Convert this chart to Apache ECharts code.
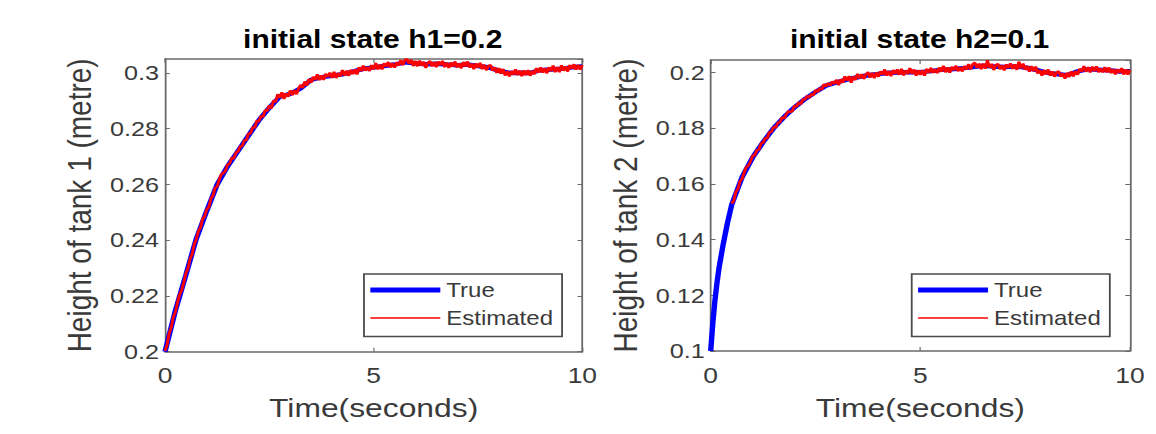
<!DOCTYPE html>
<html>
<head>
<meta charset="utf-8">
<script src="https://cdn.jsdelivr.net/npm/echarts@6/dist/echarts.min.js"></script>
<style>
  html, body { margin: 0; padding: 0; background: #ffffff; overflow: hidden; }
  #chart { width: 963px; height: 434px; transform: scaleX(1.20042); transform-origin: 0 0; }
</style>
</head>
<body>
<div id="chart"></div>
<script>
// ---------------- data ----------------
const titles = ['initial state h1=0.2', 'initial state h2=0.1'];
const yNames = ['Height of tank 1 (metre)', 'Height of tank 2 (metre)'];
const xName = 'Time(seconds)';
const legendNames = ['True', 'Estimated'];

const timeTrueL = [0,0.25,0.5,0.75,1,1.25,1.5,1.75,2,2.25,2.5,2.75,3,3.25,3.5,3.75,4,4.25,4.5,4.75,5,5.25,5.5,5.75,6,6.25,6.5,6.75,7,7.25,7.5,7.75,8,8.25,8.5,8.75,9,9.25,9.5,9.75,10];
const heightTrueL = [0.2000,0.2148,0.2275,0.2405,0.2505,0.2600,0.2665,0.2720,0.2775,0.2830,0.2875,0.2915,0.2925,0.2945,0.2975,0.2985,0.2990,0.2995,0.3005,0.3015,0.3020,0.3025,0.3030,0.3038,0.3035,0.3031,0.3033,0.3030,0.3028,0.3030,0.3025,0.3020,0.3008,0.3000,0.3001,0.3000,0.3010,0.3012,0.3015,0.3020,0.3023];

const timeTrueR = [0,0.05,0.1,0.15,0.2,0.3,0.4,0.5,0.6,0.75,1,1.25,1.5,1.75,2,2.25,2.5,2.75,3,3.25,3.5,3.75,4,4.25,4.5,4.75,5,5.25,5.5,5.75,6,6.25,6.5,6.75,7,7.25,7.5,7.75,8,8.25,8.5,8.75,9,9.25,9.5,9.75,10];
const heightTrueR = [0.1000,0.1100,0.1180,0.1245,0.1300,0.1385,0.1460,0.1525,0.1565,0.1625,0.1695,0.1750,0.1800,0.1840,0.1875,0.1905,0.1930,0.1953,0.1965,0.1975,0.1983,0.1990,0.1995,0.1999,0.2000,0.2002,0.2001,0.2005,0.2010,0.2012,0.2015,0.2020,0.2024,0.2022,0.2020,0.2022,0.2018,0.2010,0.2000,0.1995,0.1990,0.2004,0.2012,0.2010,0.2008,0.2004,0.2005];

// sample times of the estimated (noisy) signals
const timeEst = [
  0,0.05,0.1,0.15,0.2,0.25,0.3,0.35,0.4,0.45,
  0.5,0.55,0.6,0.65,0.7,0.75,0.8,0.85,0.9,0.95,
  1,1.05,1.1,1.15,1.2,1.25,1.3,1.35,1.4,1.45,
  1.5,1.55,1.6,1.65,1.7,1.75,1.8,1.85,1.9,1.95,
  2,2.05,2.1,2.15,2.2,2.25,2.3,2.35,2.4,2.45,
  2.5,2.55,2.6,2.65,2.7,2.75,2.8,2.85,2.9,2.95,
  3,3.05,3.1,3.15,3.2,3.25,3.3,3.35,3.4,3.45,
  3.5,3.55,3.6,3.65,3.7,3.75,3.8,3.85,3.9,3.95,
  4,4.05,4.1,4.15,4.2,4.25,4.3,4.35,4.4,4.45,
  4.5,4.55,4.6,4.65,4.7,4.75,4.8,4.85,4.9,4.95,
  5,5.05,5.1,5.15,5.2,5.25,5.3,5.35,5.4,5.45,
  5.5,5.55,5.6,5.65,5.7,5.75,5.8,5.85,5.9,5.95,
  6,6.05,6.1,6.15,6.2,6.25,6.3,6.35,6.4,6.45,
  6.5,6.55,6.6,6.65,6.7,6.75,6.8,6.85,6.9,6.95,
  7,7.05,7.1,7.15,7.2,7.25,7.3,7.35,7.4,7.45,
  7.5,7.55,7.6,7.65,7.7,7.75,7.8,7.85,7.9,7.95,
  8,8.05,8.1,8.15,8.2,8.25,8.3,8.35,8.4,8.45,
  8.5,8.55,8.6,8.65,8.7,8.75,8.8,8.85,8.9,8.95,
  9,9.05,9.1,9.15,9.2,9.25,9.3,9.35,9.4,9.45,
  9.5,9.55,9.6,9.65,9.7,9.75,9.8,9.85,9.9,9.95,
  10];

const heightEstL = [
  0.2003,0.2025,0.2066,0.2087,0.2125,0.2142,0.2177,0.2205,0.2221,0.2248,
  0.2281,0.2298,0.2333,0.2349,0.2385,0.2403,0.2432,0.2445,0.2476,0.2485,
  0.2510,0.2519,0.2549,0.2560,0.2587,0.2593,0.2617,0.2636,0.2641,0.2650,
  0.2671,0.2675,0.2695,0.2693,0.2714,0.2718,0.2736,0.2738,0.2758,0.2759,
  0.2782,0.2783,0.2804,0.2804,0.2828,0.2827,0.2845,0.2843,0.2866,0.2864,
  0.2884,0.2873,0.2901,0.2896,0.2923,0.2911,0.2930,0.2907,0.2927,0.2915,
  0.2937,0.2921,0.2938,0.2924,0.2944,0.2957,0.2946,0.2969,0.2955,0.2978,
  0.2965,0.2986,0.2975,0.2995,0.2974,0.2991,0.2975,0.2997,0.2986,0.3001,
  0.2982,0.3004,0.2982,0.2999,0.2988,0.3010,0.2991,0.3008,0.2990,0.3011,
  0.2996,0.3013,0.2995,0.3020,0.3007,0.3026,0.3008,0.3021,0.3007,0.3028,
  0.3013,0.3035,0.3013,0.3030,0.3013,0.3034,0.3023,0.3039,0.3020,0.3035,
  0.3019,0.3038,0.3027,0.3046,0.3028,0.3047,0.3049,0.3033,0.3047,0.3025,
  0.3043,0.3024,0.3044,0.3026,0.3040,0.3018,0.3036,0.3042,0.3024,0.3039,
  0.3021,0.3041,0.3028,0.3043,0.3021,0.3037,0.3018,0.3037,0.3023,0.3041,
  0.3020,0.3034,0.3017,0.3039,0.3024,0.3041,0.3020,0.3033,0.3014,0.3034,
  0.3019,0.3036,0.3014,0.3029,0.3010,0.3025,0.3028,0.3008,0.3020,0.3000,
  0.3017,0.2998,0.3014,0.2991,0.3006,0.2988,0.3007,0.2994,0.3013,0.2992,
  0.3008,0.2989,0.3009,0.2992,0.3010,0.2990,0.3007,0.2996,0.3017,0.3001,
  0.3020,0.3001,0.3017,0.2999,0.3020,0.3007,0.3026,0.3003,0.3021,0.3003,
  0.3027,0.3008,0.3023,0.3005,0.3028,0.3015,0.3031,0.3012,0.3029,0.3012,
  0.3028];

const heightEstR = [
  null,null,null,null,null,null,null,null,null,null,
  0.1529,0.1540,0.1571,0.1582,0.1610,0.1619,0.1642,0.1660,0.1666,0.1681,
  0.1701,0.1703,0.1721,0.1723,0.1745,0.1748,0.1764,0.1765,0.1786,0.1787,
  0.1805,0.1802,0.1820,0.1821,0.1839,0.1835,0.1849,0.1861,0.1858,0.1863,
  0.1881,0.1878,0.1893,0.1887,0.1904,0.1903,0.1916,0.1910,0.1923,0.1919,
  0.1937,0.1930,0.1944,0.1939,0.1958,0.1950,0.1962,0.1953,0.1968,0.1960,
  0.1974,0.1955,0.1975,0.1964,0.1986,0.1971,0.1987,0.1964,0.1985,0.1974,
  0.1995,0.1979,0.1994,0.1977,0.1993,0.2001,0.1982,0.1999,0.1980,0.2000,
  0.1985,0.2004,0.1992,0.2011,0.1989,0.2005,0.1987,0.2009,0.1996,0.2011,
  0.1992,0.2013,0.1990,0.2007,0.1995,0.2016,0.1996,0.2011,0.1989,0.2008,
  0.1992,0.2008,0.1989,0.2013,0.1999,0.2017,0.1999,0.2012,0.1998,0.2018,
  0.2003,0.2024,0.2001,0.2018,0.2000,0.2020,0.2009,0.2024,0.2005,0.2019,
  0.2004,0.2023,0.2011,0.2030,0.2011,0.2030,0.2035,0.2017,0.2032,0.2012,
  0.2032,0.2014,0.2044,0.2017,0.2031,0.2009,0.2026,0.2031,0.2012,0.2026,
  0.2008,0.2029,0.2017,0.2033,0.2013,0.2029,0.2010,0.2039,0.2015,0.2032,
  0.2010,0.2023,0.2003,0.2023,0.2005,0.2021,0.1997,0.2009,0.1989,0.2009,
  0.1994,0.2011,0.1989,0.2004,0.1985,0.2000,0.2004,0.1985,0.1997,0.1978,
  0.1999,0.1984,0.2004,0.1986,0.2005,0.1992,0.2013,0.2003,0.2023,0.2003,
  0.2019,0.2001,0.2021,0.2005,0.2022,0.2001,0.2014,0.2001,0.2019,0.2001,
  0.2018,0.1998,0.2012,0.1993,0.2012,0.1999,0.2016,0.1993,0.2011,0.1993,
  0.2010];

const xTicks = { min: 0, max: 10, interval: 5 };
const yTicksL = { min: 0.2, max: 0.305, interval: 0.02 };
const yTicksR = { min: 0.1, max: 0.2045, interval: 0.02 };

// ---------------- build ----------------
function zip(ts, ys) { return ts.map((t, i) => [t, ys[i]]); }

const FONT = 'Liberation Sans, Arial, Helvetica, sans-serif';
const axisCol = '#6a6a6a';
const textCol = '#3a3a3a';

const grids = [
  { left: 137.45, right: 477.9, top: 59, bottom: 82.3 },
  { left: 592.05, right: 21.66, top: 60, bottom: 83 }
];

function xAxisMain(g) {
  return {
    gridIndex: g, type: 'value', position: 'bottom',
    min: xTicks.min, max: xTicks.max, interval: xTicks.interval,
    name: xName, nameLocation: 'middle', nameGap: 43,
    nameTextStyle: { fontSize: 26.5, color: textCol, fontFamily: FONT },
    axisLine: { show: true, onZero: false, lineStyle: { color: axisCol, width: 1.5 } },
    axisTick: { show: true, inside: true, length: 4, lineStyle: { color: axisCol } },
    axisLabel: { fontSize: 22, color: textCol, margin: 13, fontFamily: FONT },
    splitLine: { show: false }
  };
}
function xAxisMirror(g) {
  return {
    gridIndex: g, type: 'value', position: 'top',
    min: xTicks.min, max: xTicks.max, interval: xTicks.interval,
    axisLine: { show: true, onZero: false, lineStyle: { color: axisCol, width: 1.5 } },
    axisTick: { show: true, inside: true, length: 4, lineStyle: { color: axisCol } },
    axisLabel: { show: false }, splitLine: { show: false }
  };
}
function yAxisMain(g, t, name) {
  return {
    gridIndex: g, type: 'value', position: 'left',
    min: t.min, max: t.max, interval: t.interval,
    name: name, nameLocation: 'middle', nameGap: 57,
    nameTextStyle: { fontSize: 28, color: textCol, fontFamily: FONT },
    axisLine: { show: true, onZero: false, lineStyle: { color: axisCol, width: 1.5 } },
    axisTick: { show: true, inside: true, length: 4, lineStyle: { color: axisCol } },
    axisLabel: { fontSize: 21, color: textCol, margin: 5, fontFamily: FONT, showMaxLabel: false },
    splitLine: { show: false }
  };
}
function yAxisMirror(g, t) {
  return {
    gridIndex: g, type: 'value', position: 'right',
    min: t.min, max: t.max, interval: t.interval,
    axisLine: { show: true, onZero: false, lineStyle: { color: axisCol, width: 1.5 } },
    axisTick: { show: true, inside: true, length: 4, lineStyle: { color: axisCol } },
    axisLabel: { show: false }, splitLine: { show: false }
  };
}

function legendAt(left) {
  return {
    show: true, orient: 'vertical', left: left, top: 274,
    data: [
      { name: legendNames[0], icon: 'path://M0,0H58V5H0Z' },
      { name: legendNames[1], icon: 'path://M0,0H58V1.5H0Z' }
    ],
    selectedMode: false, symbolKeepAspect: true,
    itemWidth: 58.3, itemHeight: 14, itemGap: 8,
    padding: [6, 7.5, 8.5, 5.3],
    borderColor: '#4a4a4a', borderWidth: 1.5, backgroundColor: '#ffffff',
    textStyle: { fontSize: 20, color: textCol, lineHeight: 20, fontFamily: FONT }
  };
}

function trueSeries(xi, yi, data) {
  return {
    name: legendNames[0], type: 'line', xAxisIndex: xi, yAxisIndex: yi,
    data: data, symbol: 'none', showSymbol: false, smooth: false,
    lineStyle: { color: '#0000ff', width: 4.5 }, itemStyle: { color: '#0000ff' },
    silent: true, z: 2
  };
}
function estSeries(xi, yi, data) {
  return {
    name: legendNames[1], type: 'line', xAxisIndex: xi, yAxisIndex: yi,
    data: data, symbol: 'none', showSymbol: false, smooth: false, connectNulls: false,
    lineStyle: { color: '#ff0000', width: 2.5 }, itemStyle: { color: '#ff0000' },
    silent: true, z: 3
  };
}

const option = {
  backgroundColor: '#ffffff',
  animation: false,
  textStyle: { fontFamily: FONT },
  title: [
    { text: titles[0], left: 305.5, top: 22, textAlign: 'center',
      textStyle: { fontSize: 25, fontWeight: 'bold', color: '#000000', fontFamily: FONT } },
    { text: titles[1], left: 761, top: 22, textAlign: 'center',
      textStyle: { fontSize: 25, fontWeight: 'bold', color: '#000000', fontFamily: FONT } }
  ],
  legend: [ legendAt(303.2), legendAt(759.5) ],
  grid: grids,
  xAxis: [ xAxisMain(0), xAxisMain(1), xAxisMirror(0), xAxisMirror(1) ],
  yAxis: [ yAxisMain(0, yTicksL, yNames[0]), yAxisMain(1, yTicksR, yNames[1]),
           yAxisMirror(0, yTicksL), yAxisMirror(1, yTicksR) ],
  series: [
    trueSeries(0, 0, zip(timeTrueL, heightTrueL)),
    estSeries(0, 0, zip(timeEst, heightEstL)),
    trueSeries(1, 1, zip(timeTrueR, heightTrueR)),
    estSeries(1, 1, zip(timeEst, heightEstR))
  ]
};

const chart = echarts.init(document.getElementById('chart'), null, { renderer: 'svg' });
chart.setOption(option);
</script>
</body>
</html>
